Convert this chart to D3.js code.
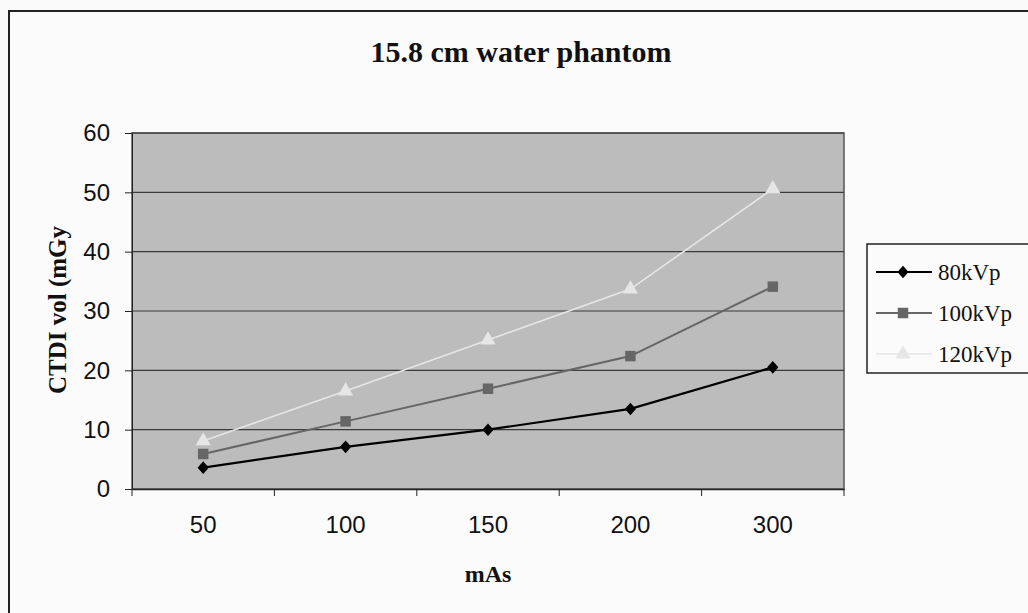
<!DOCTYPE html>
<html><head><meta charset="utf-8">
<script src="https://cdn.jsdelivr.net/npm/d3@7"></script>
<style>body{margin:0;background:#fff}</style>
</head><body>
<svg id="c" width="1028" height="613"></svg>
<script>
const categories = ["50","100","150","200","300"];
const kv80 = [3.6, 7.1, 10.0, 13.5, 20.5];
const kv100 = [5.9, 11.4, 16.9, 22.4, 34.1];
const kv120 = [8.1, 16.5, 25.1, 33.7, 50.6];
const seriesNames = ["80kVp","100kVp","120kVp"];
const yTicks = [0,10,20,30,40,50,60];

const svg = d3.select("#c");
const L=132, R=844, T=133, B=489;
svg.append("rect").attr("x",0).attr("y",0).attr("width",1028).attr("height",613).attr("fill","#fafafa");
svg.append("rect").attr("x",9).attr("y",11).attr("width",1040).attr("height",620)
  .attr("fill","#fbfbfb").attr("stroke","#222").attr("stroke-width",2);

const x = d3.scaleBand().domain(categories).range([L,R]);
const y = d3.scaleLinear().domain([0,60]).range([B,T]);

svg.append("rect").attr("x",L).attr("y",T).attr("width",R-L).attr("height",B-T)
  .attr("fill","#bcbcbc").attr("stroke","#555").attr("stroke-width",1.5);

svg.append("g").selectAll("line").data(yTicks.filter(d=>d>0)).join("line")
  .attr("x1",L).attr("x2",R).attr("y1",d=>y(d)).attr("y2",d=>y(d))
  .attr("stroke","#3a3a3a").attr("stroke-width",1.2);

const sans = "Liberation Sans, Arial";
const serif = "Liberation Serif, Times New Roman";

const yAxis = svg.append("g").attr("transform",`translate(${L},0)`)
  .call(d3.axisLeft(y).tickValues(yTicks).tickSize(7).tickPadding(15));
yAxis.select(".domain").attr("stroke","#222");
yAxis.selectAll("line").attr("stroke","#222");
yAxis.selectAll("text").attr("font-family",sans).attr("font-size",24).attr("fill","#111");

const xAxis = svg.append("g").attr("transform",`translate(0,${B})`)
  .call(d3.axisBottom(x).tickSize(0).tickPadding(27));
xAxis.select(".domain").attr("stroke","#222").attr("stroke-width",1.5);
xAxis.selectAll("text").attr("font-family",sans).attr("font-size",24).attr("fill","#111");
svg.append("g").selectAll("line").data(d3.range(categories.length+1)).join("line")
  .attr("x1",i=>L+i*x.step()).attr("x2",i=>L+i*x.step()).attr("y1",B).attr("y2",B+7)
  .attr("stroke","#222");

const diamond = d3.symbol().type(d3.symbolDiamond2).size(80)();
const series = [
  {name:seriesNames[0], vals:kv80, color:"#000", path:diamond, tf:"scale(1,1.12)", w:2.2},
  {name:seriesNames[1], vals:kv100, color:"#666", path:d3.symbol().type(d3.symbolSquare).size(110)(), tf:"", w:2},
  {name:seriesNames[2], vals:kv120, color:"#e6e6e6", path:d3.symbol().type(d3.symbolTriangle).size(100)(), tf:"", w:1.6},
];
const cx = i => x(categories[i]) + x.bandwidth()/2;
const line = d3.line().x((d,i)=>cx(i)).y(d=>y(d));
series.forEach(s=>{
  svg.append("path").attr("d",line(s.vals)).attr("fill","none").attr("stroke",s.color).attr("stroke-width",s.w);
  svg.append("g").selectAll("path").data(s.vals).join("path")
    .attr("d",s.path)
    .attr("transform",(d,i)=>`translate(${cx(i)},${y(d)}) ${s.tf}`)
    .attr("fill",s.color);
});

// legend
svg.append("rect").attr("x",867).attr("y",244).attr("width",180).attr("height",129)
  .attr("fill","#fbfbfb").attr("stroke","#222").attr("stroke-width",1.5);
series.forEach((s,i)=>{
  const ly = 272 + i*41;
  svg.append("line").attr("x1",876).attr("x2",932).attr("y1",ly).attr("y2",ly).attr("stroke",s.color).attr("stroke-width",s.w);
  svg.append("path").attr("d",s.path).attr("transform",`translate(903,${ly}) ${s.tf}`).attr("fill",s.color);
  svg.append("text").attr("x",938).attr("y",ly+8).text(s.name)
    .attr("font-family",serif).attr("font-size",23).attr("fill","#111");
});

svg.append("text").attr("x",521).attr("y",62).attr("text-anchor","middle")
  .attr("font-family",serif).attr("font-weight","bold").attr("font-size",30)
  .attr("fill","#111").text("15.8 cm water phantom");
svg.append("text").attr("transform","translate(66,310) rotate(-90)").attr("text-anchor","middle")
  .attr("font-family",serif).attr("font-weight","bold").attr("font-size",25)
  .attr("fill","#111").text("CTDI vol (mGy");
svg.append("text").attr("x",488).attr("y",582).attr("text-anchor","middle")
  .attr("font-family",serif).attr("font-weight","bold").attr("font-size",24)
  .attr("fill","#111").text("mAs");
</script>
</body></html>
